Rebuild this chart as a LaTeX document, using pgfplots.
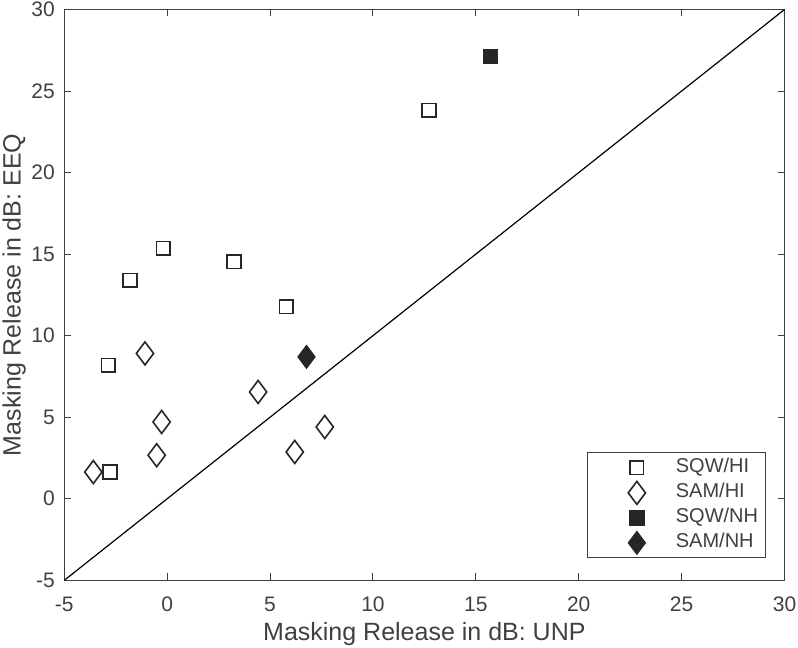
\documentclass[border=0pt]{standalone}
\usepackage{fontspec}
\setmainfont{Liberation Sans}
\usepackage{pgfplots}
\pgfplotsset{compat=1.18}
\definecolor{axc}{RGB}{64,64,64}
\definecolor{mk}{RGB}{38,38,38}
\begin{document}
\begin{tikzpicture}
\path[use as bounding box] (0pt,0pt) rectangle (798pt,648pt);
\begin{axis}[
  at={(64.3pt,67.7pt)}, anchor=south west,
  width=720.2pt, height=570.8pt, scale only axis,
  xmin=-5, xmax=30, ymin=-5, ymax=30,
  xtick={-5,0,...,30}, ytick={-5,0,...,30},
  tick align=inside, major tick length=7pt,
  axis line style={axc, line width=1pt},
  every tick/.style={axc, line width=1pt},
  ticklabel style={font=\fontsize{21}{25}\selectfont, text=axc},
  /pgf/number format/assume math mode=true,
  xticklabel style={yshift=-13pt},
  yticklabel style={xshift=-6pt},
  xlabel={Masking Release in dB: UNP},
  ylabel={Masking Release in dB: EEQ},
  label style={font=\fontsize{25}{30}\selectfont, text=axc},
  xlabel style={at={(axis description cs:0.5,0)}, anchor=center, yshift=-54pt},
  ylabel style={at={(axis description cs:-0.0695,0.5)}, anchor=center},
  legend style={at={(axis description cs:1,0)}, anchor=south east, xshift=-19pt, yshift=22pt,
    draw=axc, line width=0.8pt, inner xsep=7pt, inner ysep=2.5pt,
    font=\fontsize{20}{24}\selectfont, text=axc, row sep=0pt,
    nodes={draw=none, inner sep=0pt, text height=15pt, text depth=5pt}},
  legend cell align=left,
  legend image code/.code={\path[draw=none] (-42pt,-12.5pt) rectangle (39pt,12.5pt); \draw[#1] plot coordinates {(0pt,0pt)};},
]
\addplot[black, line width=1.2pt, forget plot] coordinates {(-5,-5) (30,30)};
\addplot[only marks, mark=square, mark size=6.8pt, mark options={draw=mk, line width=1.6pt}] coordinates {
(-0.19,15.35) (-1.81,13.40) (3.25,14.53) (5.78,11.77) (-2.86,8.19) (-2.78,1.64) (12.72,23.83)};
\addlegendentry{SQW/HI}
\addplot[only marks, mark=diamond, mark size=11.5pt, mark options={draw=mk, line width=1.6pt}] coordinates {
(-1.08,8.91) (-0.27,4.71) (-0.51,2.67) (-3.59,1.64) (4.42,6.55) (6.20,2.87) (7.66,4.40)};
\addlegendentry{SAM/HI}
\addplot[only marks, mark=square*, mark size=7.2pt, mark options={draw=mk, fill=mk, line width=1pt}] coordinates {
(15.71,27.10)};
\addlegendentry{SQW/NH}
\addplot[only marks, mark=diamond*, mark size=11.5pt, mark options={draw=mk, fill=mk, line width=1pt}] coordinates {
(6.77,8.70)};
\addlegendentry{SAM/NH}
\end{axis}
\end{tikzpicture}
\end{document}
